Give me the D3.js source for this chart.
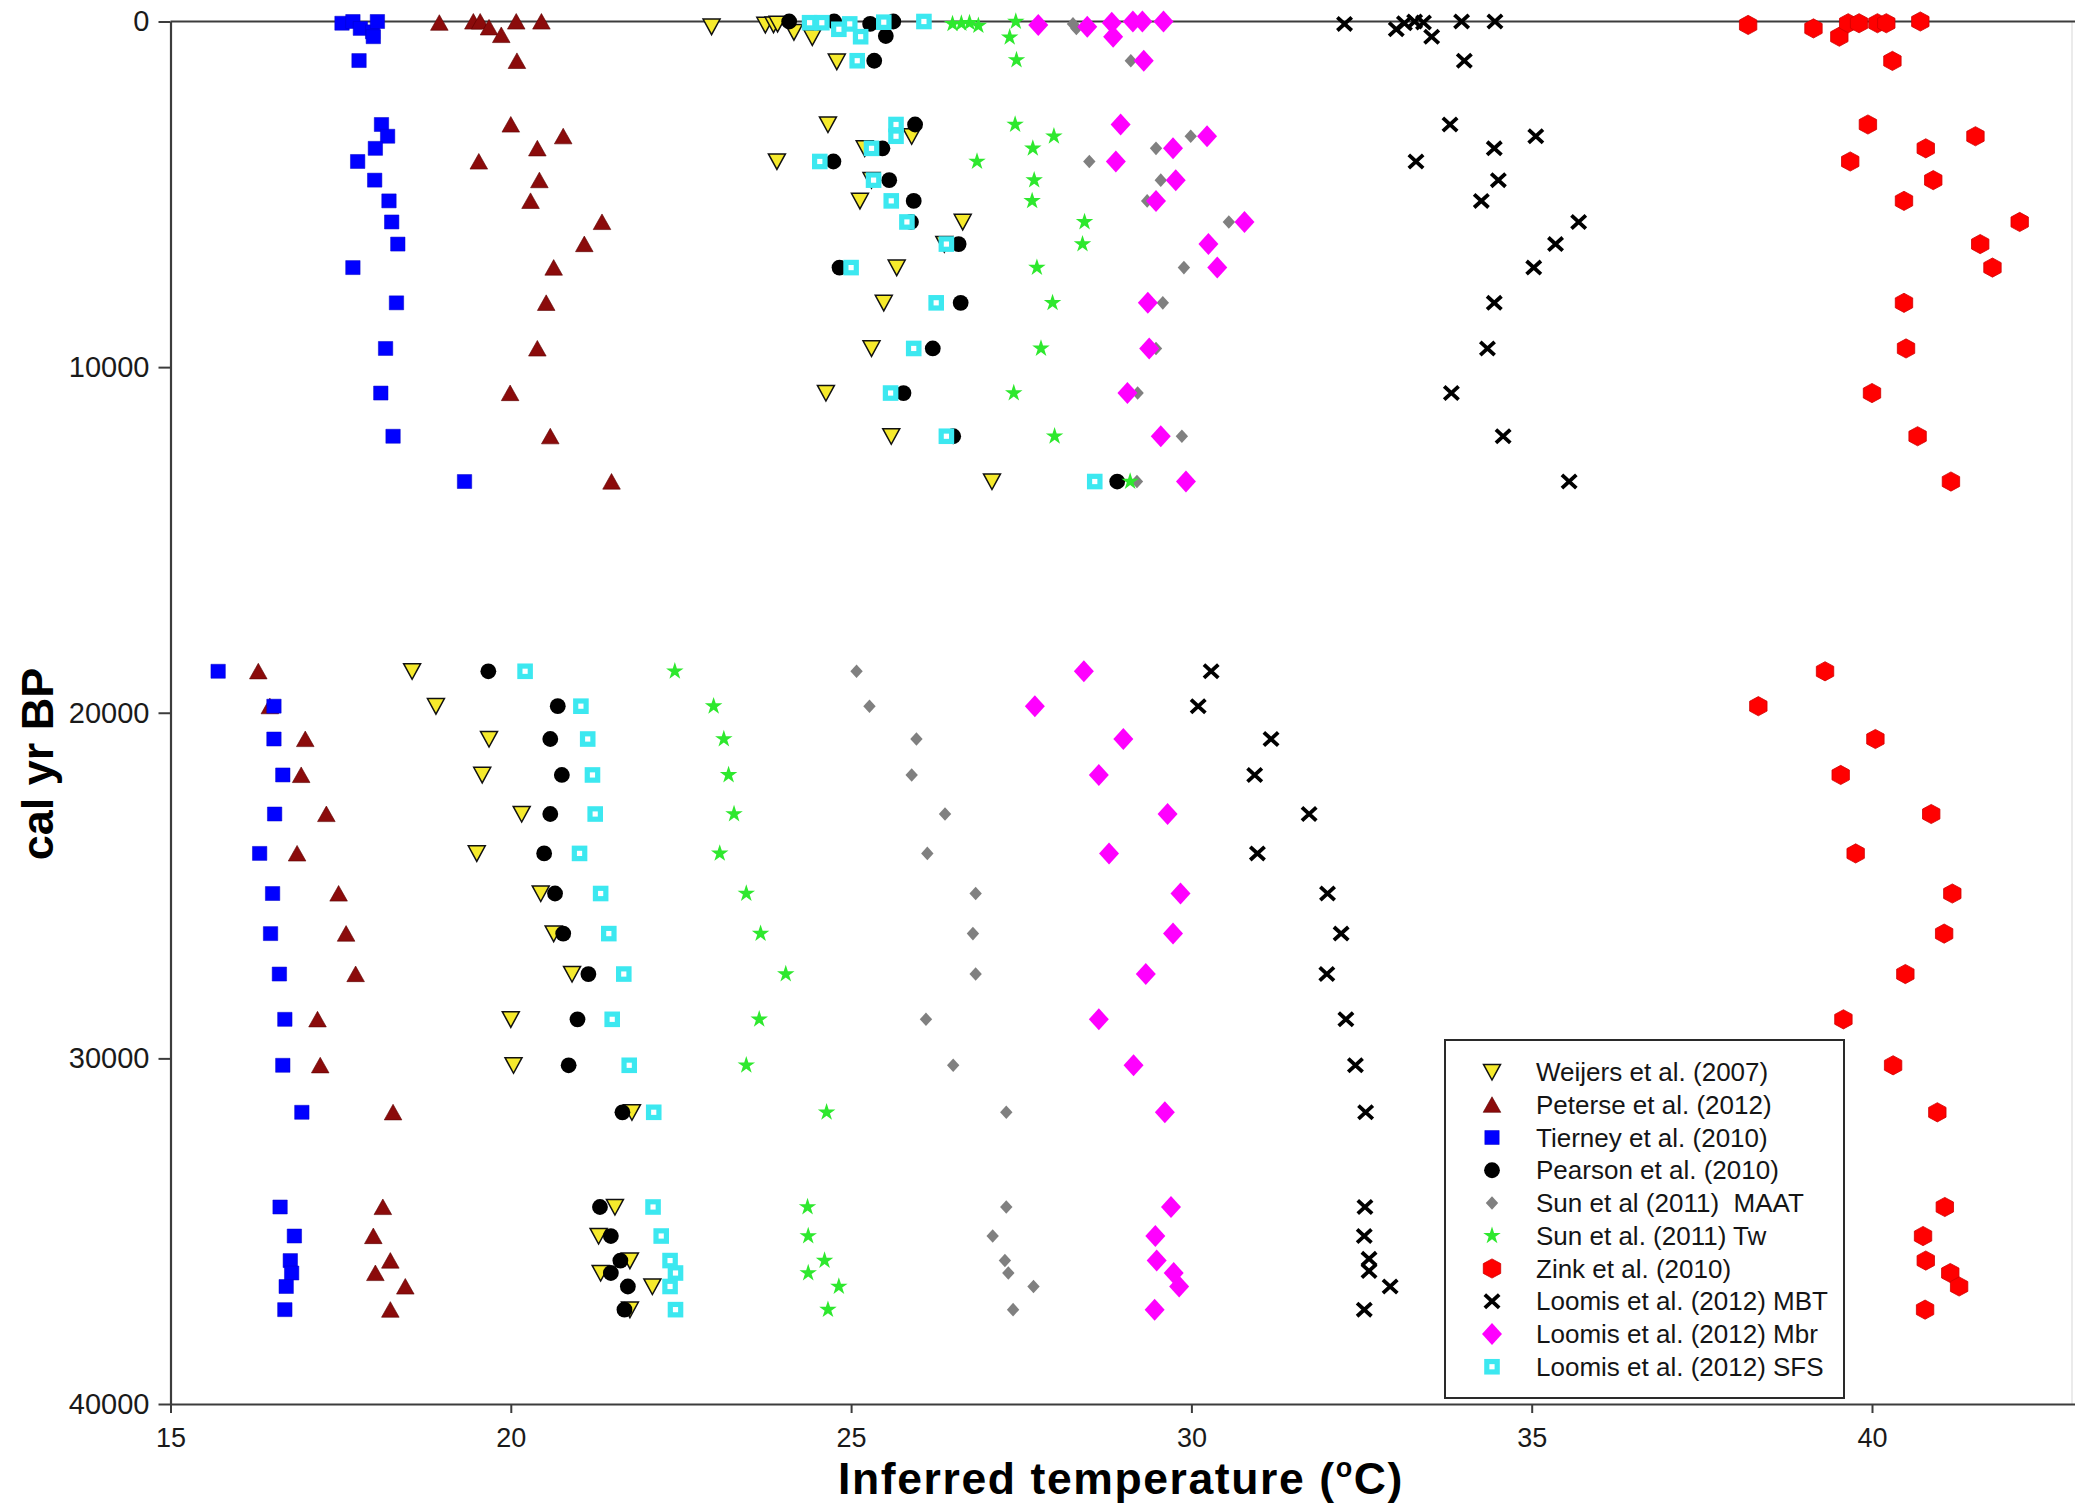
<!DOCTYPE html>
<html>
<head>
<meta charset="utf-8">
<script src="https://cdn.jsdelivr.net/npm/d3@7"></script>
<style>
  body { margin: 0; background: #fff; }
  svg { display: block; }
  text { font-family: "Liberation Sans", Arial, sans-serif; }
</style>
</head>
<body>
<svg id="chart"></svg>
<script>
const width = 2075, height = 1504;

const xTicks = [15, 20, 25, 30, 35, 40];
const yTicks = [0, 10000, 20000, 30000, 40000];

// every point is [temperature (oC), cal yr BP]
const weijers = [
    [22.95, 150], [23.74, 100], [23.86, 90], [23.92, 70], [24.16, 310], [24.43, 460], [24.79, 1160],
    [24.66, 2980], [25.89, 3320], [25.20, 3670], [23.91, 4050], [25.30, 4590], [25.13, 5190], [26.64, 5800],
    [26.37, 6440], [25.67, 7120], [25.48, 8140], [25.30, 9460], [24.63, 10750], [25.59, 12000], [27.07, 13310],
    [18.55, 18800], [18.90, 19810], [19.68, 20760], [19.58, 21800], [20.16, 22930], [19.50, 24070],
    [20.44, 25230], [20.63, 26390], [20.90, 27560], [20.00, 28870], [20.04, 30200], [21.78, 31560],
    [21.53, 34300], [21.29, 35140], [21.75, 35850], [21.32, 36210], [22.08, 36600], [21.75, 37270]
];
const peterse = [
    [18.95, 35], [19.45, 0], [19.55, 0], [19.68, 170], [19.86, 390], [20.08, 0], [20.45, 0], [20.09, 1140],
    [20.00, 2980], [20.77, 3320], [20.39, 3670], [19.53, 4050], [20.42, 4590], [20.29, 5190], [21.34, 5800],
    [21.08, 6440], [20.63, 7120], [20.52, 8140], [20.39, 9460], [19.99, 10750], [20.58, 12000], [21.48, 13310],
    [16.29, 18800], [16.46, 19810], [16.98, 20760], [16.92, 21800], [17.29, 22930], [16.86, 24070],
    [17.47, 25230], [17.58, 26390], [17.72, 27560], [17.16, 28870], [17.20, 30200], [18.27, 31560],
    [18.12, 34300], [17.98, 35140], [18.23, 35850], [18.01, 36210], [18.45, 36600], [18.23, 37270]
];
const tierney = [
    [17.52, 50], [17.68, 0], [17.79, 200], [17.97, 300], [18.04, 0], [17.98, 440], [17.77, 1130],
    [18.10, 2980], [18.19, 3320], [18.01, 3670], [17.75, 4050], [18.00, 4590], [18.21, 5190], [18.25, 5800],
    [18.34, 6440], [17.68, 7120], [18.32, 8140], [18.16, 9460], [18.09, 10750], [18.27, 12000], [19.32, 13310],
    [15.70, 18800], [16.52, 19810], [16.52, 20760], [16.65, 21800], [16.53, 22930], [16.31, 24070],
    [16.50, 25230], [16.47, 26390], [16.60, 27560], [16.68, 28870], [16.65, 30200], [16.93, 31560],
    [16.61, 34300], [16.82, 35140], [16.76, 35850], [16.78, 36210], [16.70, 36600], [16.68, 37270]
];
const pearson = [
    [24.09, 0], [24.75, 0], [25.28, 70], [25.62, 0], [25.51, 420], [25.34, 1135],
    [25.94, 2980], [25.46, 3670], [24.74, 4050], [25.56, 4590], [25.92, 5190], [25.88, 5800],
    [26.58, 6440], [24.83, 7120], [26.61, 8140], [26.20, 9460], [25.77, 10750], [26.50, 12000], [28.91, 13310],
    [19.67, 18800], [20.69, 19810], [20.58, 20760], [20.75, 21800], [20.58, 22930], [20.49, 24070],
    [20.65, 25230], [20.77, 26390], [21.14, 27560], [20.98, 28870], [20.85, 30200], [21.64, 31560],
    [21.31, 34300], [21.47, 35140], [21.61, 35850], [21.47, 36210], [21.72, 36600], [21.67, 37270]
];
const sunMaat = [
    [28.26, 70], [28.31, 200], [29.11, 1135],
    [29.99, 3320], [29.48, 3670], [28.50, 4050], [29.55, 4590], [29.35, 5190], [30.55, 5800],
    [29.89, 7120], [29.58, 8140], [29.48, 9460], [29.21, 10750], [29.86, 12000], [29.20, 13310],
    [25.08, 18800], [25.27, 19810], [25.96, 20760], [25.89, 21800], [26.38, 22930], [26.12, 24070],
    [26.83, 25230], [26.79, 26390], [26.83, 27560], [26.10, 28870], [26.50, 30200], [27.28, 31560],
    [27.28, 34300], [27.08, 35140], [27.26, 35850], [27.31, 36210], [27.68, 36600], [27.38, 37270]
];
const sunTw = [
    [26.49, 70], [26.62, 60], [26.74, 40], [26.87, 120], [27.42, 0], [27.33, 457], [27.43, 1115],
    [27.41, 2980], [27.98, 3320], [27.67, 3670], [26.85, 4050], [27.69, 4590], [27.66, 5190], [28.43, 5800],
    [28.40, 6440], [27.73, 7120], [27.96, 8140], [27.79, 9460], [27.39, 10750], [27.99, 12000], [29.10, 13310],
    [22.41, 18800], [22.98, 19810], [23.13, 20760], [23.20, 21800], [23.28, 22930], [23.07, 24070],
    [23.46, 25230], [23.67, 26390], [24.04, 27560], [23.65, 28870], [23.46, 30200], [24.64, 31560],
    [24.36, 34300], [24.37, 35140], [24.61, 35850], [24.37, 36210], [24.82, 36600], [24.66, 37270]
];
const zink = [
    [38.18, 100], [39.14, 200], [39.52, 440], [39.65, 50], [39.81, 50], [40.08, 50], [40.21, 50], [40.71, 0],
    [40.30, 1140], [39.94, 2980], [41.52, 3320], [40.79, 3670], [39.68, 4050], [40.90, 4590], [40.47, 5190],
    [42.17, 5800], [41.59, 6440], [41.77, 7120], [40.47, 8140], [40.50, 9460], [40.00, 10750], [40.67, 12000],
    [41.16, 13310],
    [39.31, 18800], [38.33, 19810], [40.05, 20760], [39.54, 21800], [40.87, 22930], [39.76, 24070],
    [41.18, 25230], [41.06, 26390], [40.49, 27560], [39.58, 28870], [40.31, 30200], [40.96, 31560],
    [41.07, 34300], [40.75, 35140], [40.79, 35850], [41.15, 36210], [41.28, 36600], [40.78, 37270]
];
const loomisMbt = [
    [32.25, 70], [33.01, 225], [33.13, 50], [33.28, 0], [33.41, 30], [33.53, 440], [33.97, 0], [34.46, 0],
    [34.01, 1135], [33.80, 2980], [35.06, 3320], [34.45, 3670], [33.30, 4050], [34.51, 4590], [34.26, 5190],
    [35.69, 5800], [35.35, 6440], [35.03, 7120], [34.45, 8140], [34.35, 9460], [33.82, 10750], [34.58, 12000],
    [35.55, 13310],
    [30.29, 18800], [30.10, 19810], [31.17, 20760], [30.93, 21800], [31.73, 22930], [30.97, 24070],
    [32.00, 25230], [32.20, 26390], [31.99, 27560], [32.27, 28870], [32.41, 30200], [32.56, 31560],
    [32.55, 34300], [32.54, 35140], [32.61, 35800], [32.61, 36150], [32.92, 36600], [32.54, 37270]
];
const loomisMbr = [
    [27.75, 100], [28.47, 150], [28.83, 35], [28.85, 440], [29.14, 0], [29.28, 0], [29.59, 0], [29.30, 1135],
    [28.96, 2980], [30.23, 3320], [29.73, 3670], [28.89, 4050], [29.77, 4590], [29.48, 5190], [30.78, 5800],
    [30.25, 6440], [30.38, 7120], [29.36, 8140], [29.38, 9460], [29.06, 10750], [29.55, 12000], [29.92, 13310],
    [28.42, 18800], [27.70, 19810], [29.00, 20760], [28.64, 21800], [29.65, 22930], [28.79, 24070],
    [29.84, 25230], [29.73, 26390], [29.33, 27560], [28.64, 28870], [29.15, 30200], [29.61, 31560],
    [29.70, 34300], [29.47, 35140], [29.49, 35850], [29.74, 36210], [29.82, 36600], [29.46, 37270]
];
const loomisSfs = [
    [24.39, 35], [24.57, 35], [24.82, 225], [24.98, 70], [25.14, 440], [25.48, 20], [26.07, 0], [25.09, 1135],
    [25.66, 2980], [25.66, 3320], [25.30, 3670], [24.54, 4050], [25.33, 4590], [25.59, 5190], [25.82, 5800],
    [26.40, 6440], [25.00, 7120], [26.25, 8140], [25.92, 9460], [25.58, 10750], [26.40, 12000], [28.58, 13310],
    [20.21, 18800], [21.03, 19810], [21.13, 20760], [21.20, 21800], [21.24, 22930], [21.01, 24070],
    [21.32, 25230], [21.44, 26390], [21.66, 27560], [21.49, 28870], [21.74, 30200], [22.10, 31560],
    [22.09, 34300], [22.21, 35140], [22.34, 35850], [22.42, 36210], [22.34, 36600], [22.42, 37270]
];

const shapes = {
    triDown: 'M-8.5,-7.6L8.5,-7.6L0,8Z',
    triUp: 'M0,-8L8.8,7.6L-8.8,7.6Z',
    square: 'M-7.2,-7h14.4v14h-14.4Z',
    circle: d3.symbol(d3.symbolCircle, 196)(),
    smallDiamond: 'M0,-6.8L6.2,0L0,6.8L-6.2,0Z',
    star: d3.symbol(d3.symbolStar, 95)(),
    hexagon: 'M0,-9.6L8.7,-4.9L8.7,4.9L0,9.6L-8.7,4.9L-8.7,-4.9Z',
    times: 'M-7.2,-6.6L7.2,6.6M-7.2,6.6L7.2,-6.6',
    diamond: 'M0,-11L10,0L0,11L-10,0Z',
    sfs: 'M-7.8,-7.8h15.6v15.6h-15.6Z'
};
const sfsHole = 'M-2.6,-2.6h5.2v5.2h-5.2Z';

const series = [
    { name: 'Weijers et al. (2007)', data: weijers, shape: 'triDown', fill: '#f6ea2c', stroke: '#111', sw: 1.5 },
    { name: 'Peterse et al. (2012)', data: peterse, shape: 'triUp', fill: '#8b0b0b', stroke: '#5c0000', sw: 0.6 },
    { name: 'Tierney et al. (2010)', data: tierney, shape: 'square', fill: '#0000ff', stroke: '#0000c8', sw: 0.5 },
    { name: 'Pearson et al. (2010)', data: pearson, shape: 'circle', fill: '#000', stroke: 'none', sw: 0 },
    { name: 'Sun et al (2011)  MAAT', data: sunMaat, shape: 'smallDiamond', fill: '#808080', stroke: 'none', sw: 0 },
    { name: 'Sun et al. (2011) Tw', data: sunTw, shape: 'star', fill: '#2ee82e', stroke: 'none', sw: 0 },
    { name: 'Zink et al. (2010)', data: zink, shape: 'hexagon', fill: '#ff0000', stroke: '#d00000', sw: 0.8 },
    { name: 'Loomis et al. (2012) MBT', data: loomisMbt, shape: 'times', fill: 'none', stroke: '#000', sw: 3.8 },
    { name: 'Loomis et al. (2012) Mbr', data: loomisMbr, shape: 'diamond', fill: '#ff00ff', stroke: 'none', sw: 0 },
    { name: 'Loomis et al. (2012) SFS', data: loomisSfs, shape: 'sfs', fill: '#3ce8f0', stroke: 'none', sw: 0 }
];

const plot = { left: 170.5, top: 21.5, bottom: 1404, right: 170.5 + 28 * 68.06 };

const scales = {
    x: d3.scaleLinear().domain([15, 43]).range([plot.left, plot.right]),
    y: d3.scaleLinear().domain([0, 40000]).range([plot.top, plot.bottom])
};

const svg = d3.select('#chart')
    .attr('width', width)
    .attr('height', height)
    .attr('viewBox', `0 0 ${width} ${height}`);

svg.append('rect').attr('width', width).attr('height', height).attr('fill', '#fff');

// faint right border of the figure
svg.append('line')
    .attr('x1', 2072).attr('x2', 2072)
    .attr('y1', plot.top).attr('y2', plot.bottom)
    .attr('stroke', '#e4e4e4').attr('stroke-width', 1.5);

// top frame line
svg.append('line')
    .attr('x1', plot.left).attr('x2', width)
    .attr('y1', plot.top).attr('y2', plot.top)
    .attr('stroke', '#3c3c3c').attr('stroke-width', 2.2);

const axes = {
    x: d3.axisBottom(scales.x).tickValues(xTicks).tickSize(9).tickPadding(15).tickSizeOuter(0),
    y: d3.axisLeft(scales.y).tickValues(yTicks).tickSize(12).tickPadding(9).tickSizeOuter(0)
        .tickFormat(d3.format('d'))
};

const elAxes = {};
elAxes.x = svg.append('g')
    .attr('class', 'axis axis--x')
    .attr('transform', `translate(0,${plot.bottom})`)
    .call(axes.x);
elAxes.y = svg.append('g')
    .attr('class', 'axis axis--y')
    .attr('transform', `translate(${plot.left},0)`)
    .call(axes.y);

[elAxes.x, elAxes.y].forEach(g => {
    g.attr('font-family', '"Liberation Sans", Arial, sans-serif');
    g.select('.domain').attr('stroke', '#3c3c3c').attr('stroke-width', 2.2);
    g.selectAll('.tick line').attr('stroke', '#3c3c3c').attr('stroke-width', 2);
    g.selectAll('.tick text').attr('fill', '#1a1a1a');
});
elAxes.x.attr('font-size', 27);
elAxes.y.attr('font-size', 29);

// axis titles
svg.append('text')
    .attr('x', 1121)
    .attr('y', 1494)
    .attr('text-anchor', 'middle')
    .attr('font-size', 44.5)
    .attr('font-weight', 'bold')
    .attr('letter-spacing', 1.6)
    .attr('fill', '#000')
    .call(t => {
        t.append('tspan').text('Inferred temperature (');
        t.append('tspan').attr('font-size', 27).attr('dy', -17).text('o');
        t.append('tspan').attr('dy', 17).text('C)');
    });

svg.append('text')
    .attr('transform', 'translate(53,764) rotate(-90)')
    .attr('text-anchor', 'middle')
    .attr('font-size', 45)
    .attr('font-weight', 'bold')
    .attr('fill', '#000')
    .text('cal yr BP');

function drawMarkers(g, s, points) {
    g.selectAll('path.mark')
        .data(points)
        .join('path')
        .classed('mark', true)
        .attr('d', shapes[s.shape])
        .attr('transform', p => `translate(${p.x},${p.y})`)
        .attr('fill', s.fill)
        .attr('stroke', s.stroke)
        .attr('stroke-width', s.sw)
        .attr('stroke-linejoin', 'miter');
    if (s.shape === 'sfs') {
        g.selectAll('path.hole')
            .data(points)
            .join('path')
            .classed('hole', true)
            .attr('d', sfsHole)
            .attr('transform', p => `translate(${p.x},${p.y})`)
            .attr('fill', '#fff');
    }
}

const elPoints = svg.append('g').classed('points', true);
series.forEach(s => {
    const g = elPoints.append('g').attr('class', 'series');
    drawMarkers(g, s, s.data.map(d => ({ x: scales.x(d[0]), y: scales.y(d[1]) })));
});

// legend
const legend = { x: 1445, y: 1040, w: 399, h: 358, symX: 1492, textX: 1536, row0: 1072, step: 32.75 };
const elLegend = svg.append('g').classed('legend', true);
elLegend.append('rect')
    .attr('x', legend.x).attr('y', legend.y)
    .attr('width', legend.w).attr('height', legend.h)
    .attr('fill', '#fff')
    .attr('stroke', '#2a2a2a').attr('stroke-width', 2);

series.forEach((s, i) => {
    const cy = legend.row0 + i * legend.step;
    const g = elLegend.append('g');
    drawMarkers(g, s, [{ x: legend.symX, y: cy }]);
    g.append('text')
        .attr('x', legend.textX)
        .attr('y', cy)
        .attr('dy', '0.35em')
        .attr('font-size', 26)
        .attr('fill', '#151515')
        .style('white-space', 'pre')
        .text(s.name);
});
</script>
</body>
</html>
